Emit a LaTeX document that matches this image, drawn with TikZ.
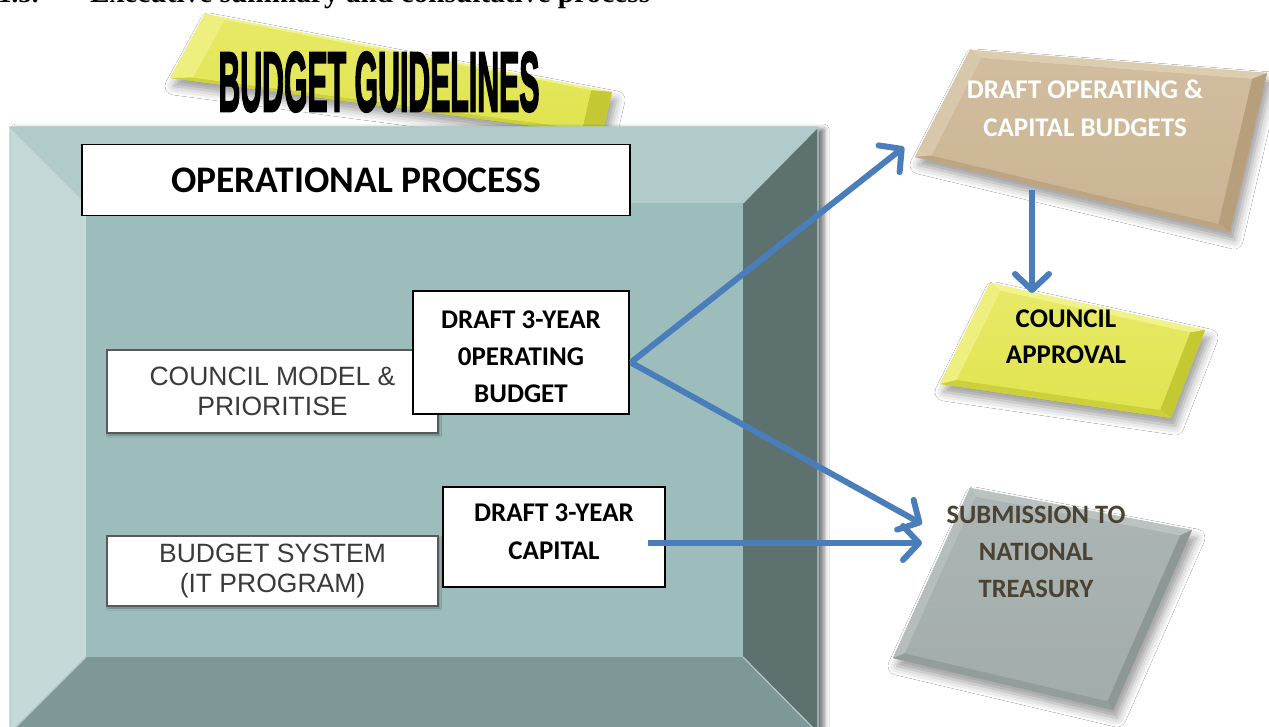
\documentclass[tikz,border=0pt]{standalone}
\usepackage{fontspec}
\setmainfont{Carlito}
\newfontfamily\arialf{Liberation Sans}
\newfontfamily\heavyf[BoldFeatures={FakeBold=3}]{Liberation Sans}
\newfontfamily\timesf{Liberation Serif}
\usepackage{graphicx}
\usetikzlibrary{arrows.meta,calc,shadows.blur}
\definecolor{arrowblue}{HTML}{4A7EBB}
\definecolor{bandtop}{HTML}{B0CBCA}
\definecolor{bandleft}{HTML}{C4D9D8}
\definecolor{bandright}{HTML}{5D716E}
\definecolor{bandbottom}{HTML}{7E9897}
\definecolor{boxface}{HTML}{9DBDBC}
\definecolor{tanlight}{HTML}{DCCCB0}
\definecolor{tanface}{HTML}{CAB493}
\definecolor{tandark}{HTML}{B89F7C}
\definecolor{yellight}{HTML}{F0F28A}
\definecolor{yelface}{HTML}{E0E44E}
\definecolor{yeldark}{HTML}{C3C833}
\definecolor{greylight}{HTML}{BAC3C2}
\definecolor{greyface}{HTML}{A2ACAB}
\definecolor{greydark}{HTML}{8C9796}
\definecolor{subtext}{HTML}{4A4233}
\definecolor{armtext}{HTML}{3A3A3A}
\newcommand\bslab[8]{%
  \coordinate (sA) at #1; \coordinate (sB) at #2; \coordinate (sC) at #3; \coordinate (sD) at #4;
  \coordinate (sM) at ($(sA)!0.5!(sC)$);
  \coordinate (sa) at ($(sA)!#8!(sM)$);
  \coordinate (sb) at ($(sB)!#8!(sM)$);
  \coordinate (sc) at ($(sC)!#8!(sM)$);
  \coordinate (sd) at ($(sD)!#8!(sM)$);
  \path[fill=#6, blur shadow={shadow xshift=4pt,shadow yshift=-8pt,shadow blur radius=9pt,shadow opacity=40}] (sA)--(sB)--(sC)--(sD)--cycle;
  \fill[#5] (sA)--(sB)--(sb)--(sa)--cycle;
  \fill[#5!80!#6] (sA)--(sa)--(sd)--(sD)--cycle;
  \fill[#7] (sB)--(sC)--(sc)--(sb)--cycle;
  \fill[#7!70!#6] (sD)--(sd)--(sc)--(sC)--cycle;
  \shade[top color=#5!40!#6, bottom color=#6] (sa)--(sb)--(sc)--(sd)--cycle;
}
\begin{document}
\begin{tikzpicture}[x=1pt,y=-1pt,
  conn/.style={draw=arrowblue, line width=6pt, -{Straight Barb[length=16pt,width=34pt,round]}},
  wbox/.style={draw=black, line width=1.8pt, fill=white, inner sep=0pt, align=center,
     font=\fontsize{27}{37}\selectfont\bfseries},
  gbox/.style={draw=black!65, line width=2.2pt, fill=white, inner sep=0pt, align=center,
     text=armtext, font=\arialf\fontsize{26.5}{29.5}\selectfont,
     blur shadow={shadow xshift=1.5pt,shadow yshift=-2pt,shadow blur radius=2pt,shadow opacity=35}},
  slabtext/.style={inner sep=0pt, align=center, font=\fontsize{27}{37}\selectfont\bfseries}
]
\clip (0,0) rectangle (1269,727);
\fill[white] (0,0) rectangle (1269,727);

% heading (cut off at the top, as in the reference)
\node[anchor=base west, inner sep=0pt, font=\timesf\bfseries\fontsize{27}{30}\selectfont] (numlbl) at (-2,3) {1.5.};
\node[anchor=base west, inner sep=0pt] (heading) at (90,3)
  {\resizebox{560pt}{!}{\timesf\bfseries\fontsize{27}{30}\selectfont Executive summary and consultative process}};

% budget guidelines slab
\bslab{(205,14)}{(612,92)}{(602,135)}{(170,78)}{yellight}{yelface}{yeldark}{0.10}

% big bevelled box
\path[fill=boxface, blur shadow={shadow xshift=6pt,shadow yshift=-2pt,shadow blur radius=5pt,shadow opacity=55}] (10,127) rectangle (818,735);
\fill[bandtop] (10,127) -- (818,127) -- (743,203) -- (86,203) -- cycle;
\fill[bandleft] (10,127) -- (86,203) -- (86,657) -- (10,733) -- cycle;
\fill[bandright] (818,127) -- (818,733) -- (743,657) -- (743,203) -- cycle;
\fill[bandbottom] (86,657) -- (743,657) -- (818,733) -- (10,733) -- cycle;
\fill[boxface] (86,203) rectangle (743,657);
\draw[boxface!80!white, line width=1.2pt] (10,127) -- (86,203) (818,127) -- (743,203) (86,657) -- (10,733) (743,657) -- (818,733)
  (10,733) -- (10,127) -- (818,127) -- (818,733);

\node[inner sep=0pt] (bgtitle) at (379,82)
  {\resizebox{321pt}{59pt}{\heavyf\bfseries BUDGET GUIDELINES}};

% inner boxes
\node[wbox, minimum width=548pt, minimum height=71pt, font=\fontsize{37.5}{40}\selectfont\bfseries] (opproc) at (356,180) {OPERATIONAL PROCESS};
\node[gbox, minimum width=331pt, minimum height=83pt] (council) at (272.5,391.5) {COUNCIL MODEL \&\\PRIORITISE};
\node[gbox, minimum width=331pt, minimum height=70pt] (bsys) at (272.5,571) {BUDGET SYSTEM\\(IT PROGRAM)};
\node[wbox, minimum width=216pt, minimum height=123pt] (opbud) at (521,352.5) {};
\node[inner sep=0pt, align=center, font=\fontsize{27}{37}\selectfont\bfseries] (optext) at (521,357) {DRAFT 3-YEAR\\0PERATING\\BUDGET};
\node[wbox, minimum width=222pt, minimum height=100pt] (capbud) at (554,537) {};
\node[inner sep=0pt, align=center, font=\fontsize{27}{38}\selectfont\bfseries] (captext) at (554,532) {DRAFT 3-YEAR\\CAPITAL};

% right slabs
\bslab{(970,50)}{(1267,73)}{(1230,232)}{(915,157)}{tanlight}{tanface}{tandark}{0.09}
\node[slabtext, text=white, font=\fontsize{27}{38}\selectfont\bfseries] (tantext) at (1085,108) {DRAFT OPERATING \&\\CAPITAL BUDGETS};

\bslab{(990,283)}{(1205,330)}{(1171,418)}{(940,384)}{yellight}{yelface}{yeldark}{0.12}
\node[slabtext, font=\fontsize{27}{36}\selectfont\bfseries] (yeltext) at (1066,337) {COUNCIL\\APPROVAL};

\bslab{(970,488)}{(1192,530)}{(1113,710)}{(893,658)}{greylight}{greyface}{greydark}{0.08}
\node[slabtext, text=subtext, font=\fontsize{26.5}{37}\selectfont\bfseries] (greytext) at (1036,552) {SUBMISSION TO\\NATIONAL\\TREASURY};

% connectors
\coordinate (opOut) at ($(opbud.east)+(1,10)$);
\coordinate (capOut) at ($(capbud.east)+(-18,6)$);
\coordinate (tanIn) at (904,147);
\coordinate (tanOut) at (1032,190);
\coordinate (yelIn) at (1032,293);
\coordinate (greyInA) at (922,524);
\coordinate (greyInB) at (922,543);
\draw[conn] (opOut) -- (tanIn);
\draw[conn] (opOut) -- (greyInA);
\draw[conn] (capOut) -- (greyInB);
\draw[conn] (tanOut) -- (yelIn);
\end{tikzpicture}
\end{document}
